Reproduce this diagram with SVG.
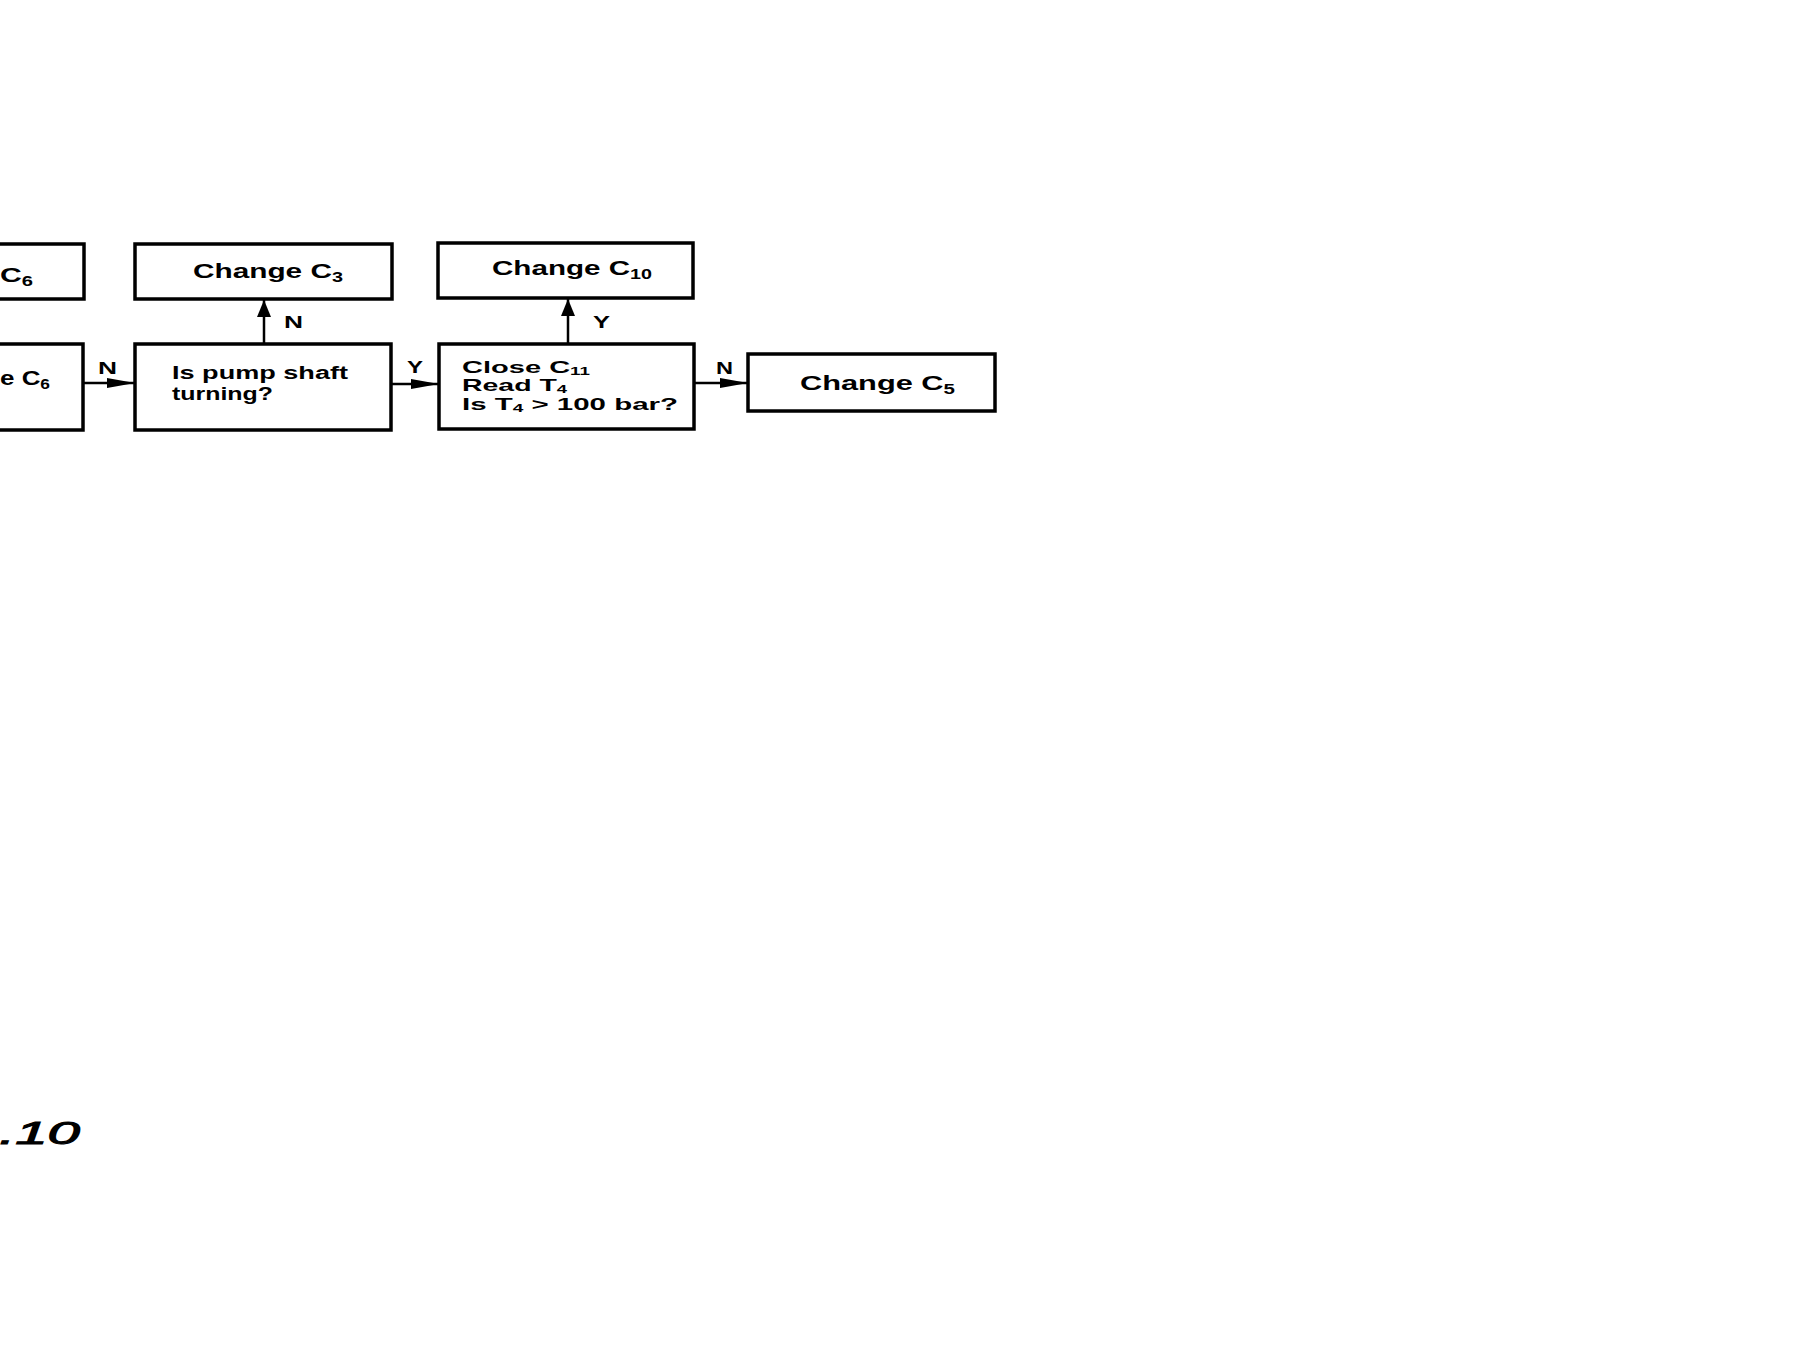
<svg xmlns="http://www.w3.org/2000/svg" width="1800" height="1368" viewBox="0 0 1800 1368">
<style>
  .box { fill: #ffffff; stroke: #000000; stroke-width: 3.5; }
  .t { font-family: "Liberation Sans", Arial, sans-serif; font-weight: bold; fill: #000000; }
  .lbl { font-family: "Liberation Sans", Arial, sans-serif; font-weight: bold; font-size: 16px; fill: #000000; }
  .cap { font-family: "Liberation Sans", Arial, sans-serif; font-weight: normal; font-style: italic; font-size: 31px; fill: #000000; stroke: #000000; stroke-width: 1; }
  .conn { stroke: #000000; stroke-width: 2.5; fill: none; }
</style>
<defs>
  <marker id="ah" markerUnits="userSpaceOnUse" viewBox="0 0 28 10" refX="28" refY="5" markerWidth="28" markerHeight="10" orient="auto">
    <path d="M0,0 L28,5 L0,10 Z" fill="#000000"/>
  </marker>
  <marker id="av" markerUnits="userSpaceOnUse" viewBox="0 0 17 14" refX="17" refY="7" markerWidth="17" markerHeight="14" orient="auto">
    <path d="M0,0 L17,7 L0,14 Z" fill="#000000"/>
  </marker>
</defs>
<rect width="1800" height="1368" fill="#ffffff"/>

<g id="node-left-top">
  <rect class="box" x="-60" y="244" width="144" height="55"/>
  <text class="t" font-size="21" x="0" y="282" textLength="33" lengthAdjust="spacingAndGlyphs">C<tspan font-size="14" dy="4">6</tspan></text>
</g>
<g id="node-left-bottom">
  <rect class="box" x="-60" y="344" width="143" height="86"/>
  <text class="t" font-size="21" x="0" y="385" textLength="50" lengthAdjust="spacingAndGlyphs">e C<tspan font-size="14" dy="4">6</tspan></text>
</g>
<g id="node-change-c3">
  <rect class="box" x="135" y="244" width="257" height="55"/>
  <text class="t" font-size="21" x="193" y="278" textLength="150" lengthAdjust="spacingAndGlyphs">Change C<tspan font-size="14" dy="4">3</tspan></text>
</g>
<g id="node-pump">
  <rect class="box" x="135" y="344" width="256" height="86"/>
  <text class="t" font-size="18" x="172" y="379" textLength="176" lengthAdjust="spacingAndGlyphs">Is pump shaft</text>
  <text class="t" font-size="18" x="172" y="400" textLength="101" lengthAdjust="spacingAndGlyphs">turning?</text>
</g>
<g id="node-change-c10">
  <rect class="box" x="438" y="243" width="255" height="55"/>
  <text class="t" font-size="21" x="492" y="275" textLength="160" lengthAdjust="spacingAndGlyphs">Change C<tspan font-size="14" dy="4">10</tspan></text>
</g>
<g id="node-close">
  <rect class="box" x="439" y="344" width="255" height="85"/>
  <text class="t" font-size="17" x="462" y="373" textLength="128" lengthAdjust="spacingAndGlyphs">Close C<tspan font-size="11" dy="2">11</tspan></text>
  <text class="t" font-size="17" x="462" y="391" textLength="105" lengthAdjust="spacingAndGlyphs">Read T<tspan font-size="11" dy="2">4</tspan></text>
  <text class="t" font-size="17" x="462" y="410" textLength="216" lengthAdjust="spacingAndGlyphs">Is T<tspan font-size="11" dy="2">4</tspan><tspan dy="-2"> &gt; 100 bar?</tspan></text>
</g>
<g id="node-change-c5">
  <rect class="box" x="748" y="354" width="247" height="57"/>
  <text class="t" font-size="21" x="800" y="390" textLength="155" lengthAdjust="spacingAndGlyphs">Change C<tspan font-size="14" dy="4">5</tspan></text>
</g>

<g id="connectors">
  <line class="conn" x1="84" y1="383" x2="135" y2="383" marker-end="url(#ah)"/>
  <line class="conn" x1="264" y1="344" x2="264" y2="300" marker-end="url(#av)"/>
  <line class="conn" x1="391" y1="384" x2="439" y2="384" marker-end="url(#ah)"/>
  <line class="conn" x1="568" y1="344" x2="568" y2="299" marker-end="url(#av)"/>
  <line class="conn" x1="694" y1="383" x2="748" y2="383" marker-end="url(#ah)"/>
  <text class="lbl" x="98" y="374" textLength="19" lengthAdjust="spacingAndGlyphs">N</text>
  <text class="lbl" x="284" y="328" textLength="19" lengthAdjust="spacingAndGlyphs">N</text>
  <text class="lbl" x="407" y="373" textLength="16" lengthAdjust="spacingAndGlyphs">Y</text>
  <text class="lbl" x="593" y="328" textLength="17" lengthAdjust="spacingAndGlyphs">Y</text>
  <text class="lbl" x="716" y="374" textLength="17" lengthAdjust="spacingAndGlyphs">N</text>
</g>

<text class="cap" x="-1" y="1144" textLength="81" lengthAdjust="spacingAndGlyphs">.10</text>
</svg>
